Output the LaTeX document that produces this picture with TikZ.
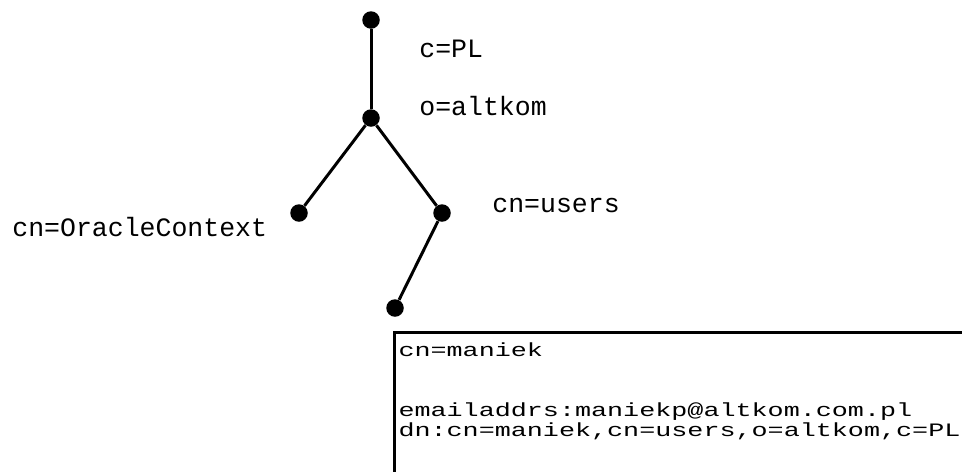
\documentclass[tikz,border=0pt]{standalone}
\usepackage{fontspec}
\usepackage{tikz}
\newfontfamily\monofont{Liberation Mono}

\begin{document}
\begin{tikzpicture}
	[
		x=0.02cm, y=-0.02cm,
		dot/.style   = {circle, fill=black, draw=none, inner sep=0pt, minimum size=0.35cm},
		branch/.style = {line width=1.7pt},
		label/.style = {anchor=base west, inner sep=0pt, font=\monofont\fontsize{15.1}{18}\selectfont},
		entry/.style = {anchor=base west, inner sep=0pt, font=\monofont\fontsize{10.8}{13}\selectfont, xscale=1.41, transform shape},
	]

	\clip (0,0) rectangle (962,471);

	% tree nodes
	\node[dot] (root)   at ( 371,  20 ) {};
	\node[dot] (org)    at ( 371, 118 ) {};
	\node[dot] (oracle) at ( 299, 213 ) {};
	\node[dot] (users)  at ( 442, 213 ) {};
	\node[dot] (maniek) at ( 395, 308 ) {};

	\foreach \from/\to in {root/org,org/oracle,org/users,users/maniek}
	\draw[branch] (\from) -- (\to);

	% names
	\node[label] (cpl)   at ( 419,  57 ) {c=PL};
	\node[label] (oalt)  at ( 419, 115 ) {o=altkom};
	\node[label] (cnusr) at ( 492, 212 ) {cn=users};
	\node[label] (cnora) at (  12, 236 ) {cn=OracleContext};

	% entry box
	\draw[branch] (394,500) -- (394,332) -- (1000,332);
	\node[entry] (ecn)   at ( 398, 356 ) {cn=maniek};
	\node[entry] (email) at ( 398, 416 ) {emailaddrs:maniekp@altkom.com.pl};
	\node[entry] (edn)   at ( 398, 436 ) {dn:cn=maniek,cn=users,o=altkom,c=PL};

\end{tikzpicture}
\end{document}
